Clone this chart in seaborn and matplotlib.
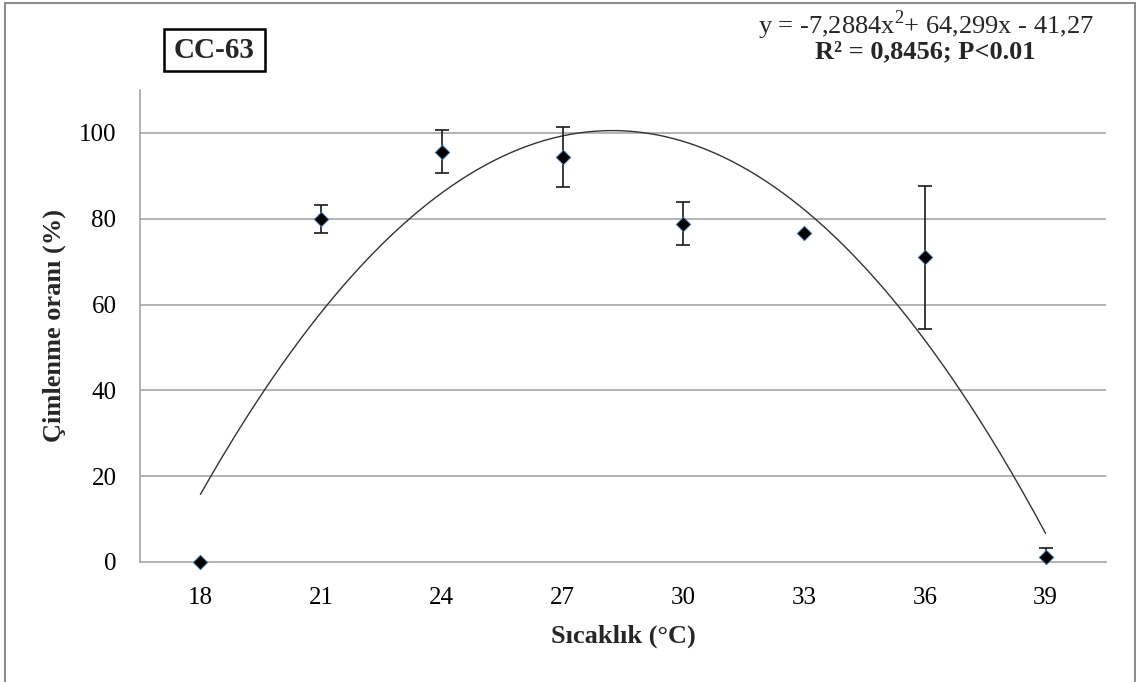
import numpy as np
import pandas as pd
import matplotlib
matplotlib.use("Agg")
import matplotlib.pyplot as plt
from matplotlib.lines import Line2D
from matplotlib.patches import Rectangle
import seaborn as sns

# Germination rate of CC-63 across incubation temperatures
temps = ["18", "21", "24", "27", "30", "33", "36", "39"]
germination = [0.0, 80.0, 95.6, 94.4, 78.8, 76.7, 71.0, 1.1]
std_err = [0.0, 3.3, 5.0, 7.0, 5.0, 0.0, 16.7, 2.1]

# Quadratic trend fitted on category index (1..8)
trend_coef = [-7.2884, 64.299, -41.27]
y_ticks = [0, 20, 40, 60, 80, 100]

sns.set_theme(style="white")
plt.rcParams["font.family"] = ["Liberation Serif", "DejaVu Serif"]
plt.rcParams["mathtext.fontset"] = "custom"
plt.rcParams["mathtext.rm"] = "Liberation Serif"

pos = np.arange(1, len(temps) + 1)
df = pd.DataFrame({"pos": pos, "rate": germination, "err": std_err})

W, H = 1136, 682
fig = plt.figure(figsize=(W / 100, H / 100), dpi=100)
ax = fig.add_axes([140 / W, 1 - 562 / H, 966 / W, 472 / H])

grid_col = "#a6a6a6"
for yv in y_ticks[1:]:
    ax.axhline(yv, color=grid_col, lw=1.2, zorder=0)

# trend curve
xs = np.linspace(1, len(temps), 300)
trend = pd.DataFrame({"x": xs, "y": np.polyval(trend_coef, xs)})
sns.lineplot(data=trend, x="x", y="y", ax=ax, color="#333333", lw=1.0, zorder=2)

# error bars
has_err = df[df["err"] > 0]
ax.errorbar(has_err["pos"], has_err["rate"], yerr=has_err["err"], fmt="none",
            ecolor="#1a1a1a", elinewidth=1.2, capsize=5, capthick=1.2, zorder=3)

# data points
sns.scatterplot(data=df, x="pos", y="rate", ax=ax, marker="D", s=55,
                color="black", edgecolor="#4a7ebb", linewidth=0.6,
                zorder=4, clip_on=False)

ax.set_xlim(0.5, len(temps) + 0.5)
ax.set_ylim(0, 110)
ax.set_yticks(y_ticks)
ax.set_yticklabels([str(v) for v in y_ticks])
ax.set_xticks(pos)
ax.set_xticklabels(temps)
ax.set_xticks(np.arange(0.5, len(temps) + 1.0, 1.0), minor=True)

ax.tick_params(axis="x", which="major", length=0, pad=18, labelsize=18,
               colors="black")
ax.tick_params(axis="x", which="minor", length=9, width=1.2, color=grid_col,
               direction="out")
ax.tick_params(axis="y", which="major", length=9, width=1.2, color=grid_col,
               direction="out", pad=8, labelsize=18, labelcolor="black")

for side in ["top", "right"]:
    ax.spines[side].set_visible(False)
for side in ["left", "bottom"]:
    ax.spines[side].set_color(grid_col)
    ax.spines[side].set_linewidth(1.2)

ax.set_xlabel("Sıcaklık (°C)", fontsize=19, fontweight="bold", labelpad=11)
ax.set_ylabel("Çimlenme oranı (%)", fontsize=19, fontweight="bold", labelpad=9)

# equation and statistics
fig.text(926 / W, 1 - 25 / H,
         r"y = -7,2884x$^{2}$+ 64,299x - 41,27",
         ha="center", va="center", fontsize=19)
fig.text(925 / W, 1 - 52 / H, "R² = 0,8456; P<0.01",
         ha="center", va="center", fontsize=19, fontweight="bold")

# cultivar label box
fig.add_artist(Rectangle((164 / W, 1 - 71 / H), 101 / W, 42 / H,
                         transform=fig.transFigure, fc="white", ec="black",
                         lw=1.8))
fig.text(214.5 / W, 1 - 50 / H, "CC-63", ha="center", va="center",
         fontsize=21, fontweight="bold")

# outer chart frame
frame_col = "#8c8c8c"
fig.add_artist(Line2D([5 / W, 5 / W], [0, 1 - 3 / H], color=frame_col, lw=1.5))
fig.add_artist(Line2D([5 / W, 1135 / W], [1 - 3 / H, 1 - 3 / H], color=frame_col, lw=1.5))
fig.add_artist(Line2D([1135 / W, 1135 / W], [0, 1 - 3 / H], color=frame_col, lw=1.5))

fig.savefig("out.png", dpi=100)
